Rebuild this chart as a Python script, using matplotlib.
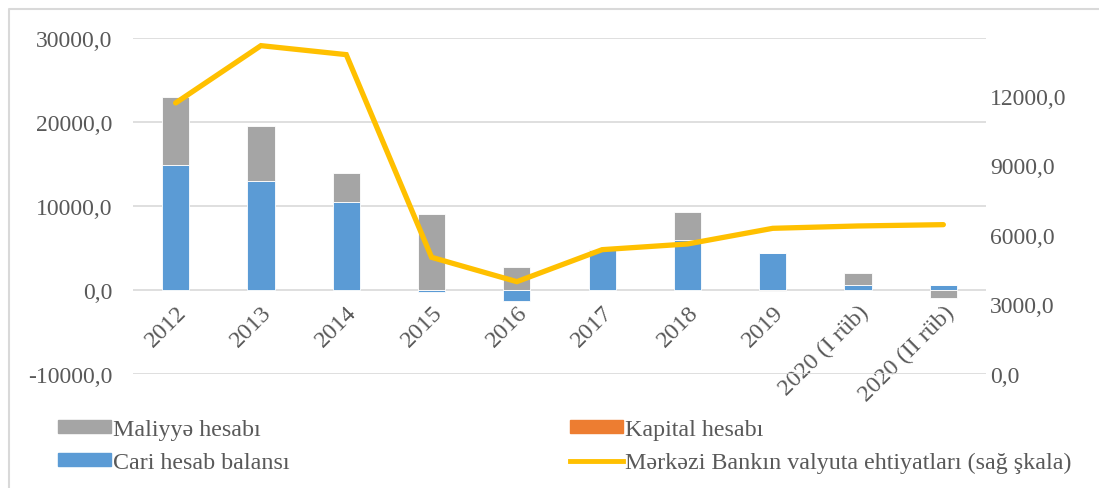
import numpy as np
import matplotlib.pyplot as plt
from matplotlib.lines import Line2D
from matplotlib.patches import Patch

plt.rcParams['font.family'] = ['Liberation Serif', 'DejaVu Serif']

years = ['2012', '2013', '2014', '2015', '2016', '2017', '2018', '2019',
         '2020 (I rüb)', '2020 (II rüb)']
cari = [14920, 13010, 10440, -250, -1345, 4800, 5900, 4370, 595, 560]
kapital = [0, 0, 0, 0, 0, 60, 0, 0, 0, 0]
maliyye = [8020, 6550, 3450, 9010, 2740, 0, 3350, -100, 1390, -990]
ehtiyat = [11697, 14170, 13782, 5036, 3985, 5366, 5611, 6287, 6388, 6445]

blue = '#5B9BD5'
orange = '#ED7D31'
gray = '#A5A5A5'
yellow = '#FFC000'
txt = '#595959'

fig = plt.figure(figsize=(10.99, 4.89), dpi=100)
ax = fig.add_axes([133 / 1099, 1 - 375 / 489, 853 / 1099, 336 / 489])

x = np.arange(len(years))
pos = np.zeros(len(years))
neg = np.zeros(len(years))
for vals, col in [(cari, blue), (kapital, orange), (maliyye, gray)]:
    v = np.array(vals, dtype=float)
    bottom = np.where(v >= 0, pos, neg)
    ax.bar(x, v, 0.32, bottom=bottom, color=col, edgecolor='white',
           linewidth=0.6, zorder=3)
    pos = pos + np.where(v > 0, v, 0)
    neg = neg + np.where(v < 0, v, 0)

ax.set_xlim(-0.5, len(years) - 0.5)
ax.set_ylim(-10000, 30000)
ax.set_yticks(np.arange(-10000, 30001, 10000))
ax.set_yticklabels([f'{v:.1f}'.replace('.', ',') for v in ax.get_yticks()])
ax.yaxis.grid(True, color='#D9D9D9', linewidth=1.2, zorder=0)
ax.set_axisbelow(True)
ax.spines['bottom'].set_position(('data', 0))
for s in ax.spines.values():
    s.set_visible(False)
ax.set_xticks(x)
ax.set_xticklabels(years, rotation=45, ha='right', rotation_mode='anchor')
ax.tick_params(axis='x', length=0, pad=8, labelsize=17.5, colors=txt)
ax.tick_params(axis='y', length=0, pad=15, labelsize=17, colors=txt)

ax2 = ax.twinx()
ax2.plot(x, ehtiyat, color=yellow, linewidth=3.8, solid_capstyle='round',
         solid_joinstyle='miter', zorder=5)
ax2.set_ylim(0, 14500)
ax2.set_yticks(np.arange(0, 12001, 3000))
ax2.set_yticklabels([f'{v:.1f}'.replace('.', ',') for v in ax2.get_yticks()])
ax2.tick_params(axis='y', length=0, pad=3, labelsize=17, colors=txt)
for s in ax2.spines.values():
    s.set_visible(False)

handles = [Patch(color=gray), Patch(color=blue), Patch(color=orange),
           Line2D([0], [0], color=yellow, linewidth=3.5)]
labels = ['Maliyyə hesabı', 'Cari hesab balansı', 'Kapital hesabı',
          'Mərkəzi Bankın valyuta ehtiyatları (sağ şkala)']
leg = fig.legend(handles, labels, ncol=2, loc='upper left',
                 bbox_to_anchor=(58 / 1099, 1 - 420 / 489), frameon=False,
                 fontsize=17.3, handlelength=2.2, handleheight=0.5,
                 handletextpad=0.1, columnspacing=11.65, labelspacing=0.5,
                 borderpad=0, borderaxespad=0)
for t in leg.get_texts():
    t.set_color(txt)

fig.add_artist(Line2D([9 / 1099, 9 / 1099, 1], [0, 1 - 10 / 489, 1 - 10 / 489],
                      transform=fig.transFigure, color='#D9D9D9', linewidth=1.5))

fig.savefig('out.png', dpi=100)
